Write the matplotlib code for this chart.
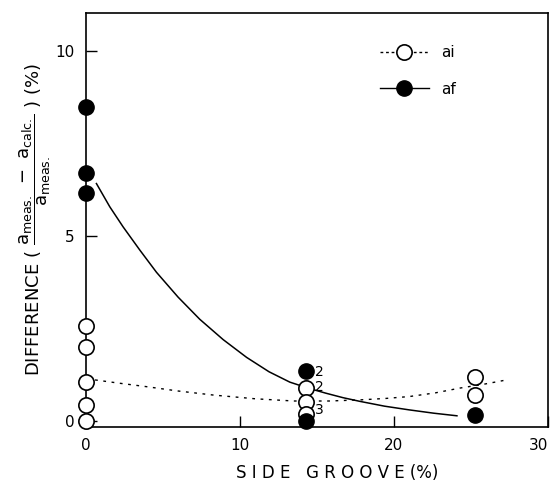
import matplotlib
matplotlib.use('Agg')
import matplotlib.pyplot as plt
from matplotlib.lines import Line2D

# ── Data ─────────────────────────────────────────────────────────────────────

ai_x = [0, 0, 0, 0, 0, 14.3, 14.3, 14.3, 25.3, 25.3]
ai_y = [2.57, 2.0, 1.05, 0.43, 0.0, 0.9, 0.5, 0.2, 1.2, 0.7]

af_x = [0, 0, 0, 14.3, 14.3, 25.3]
af_y = [8.5, 6.7, 6.16, 1.35, 0.0, 0.15]

# hand-drawn fit curves
af_curve_x = [0.69, 1.56, 2.42, 3.51, 4.59, 5.99, 7.40, 8.92, 10.44,
              11.9, 13.25, 14.5, 15.6, 16.7, 17.8, 19.4, 21.0, 22.6, 24.1]
af_curve_y = [6.42, 5.79, 5.25, 4.62, 4.02, 3.35, 2.75, 2.20, 1.72,
              1.33, 1.05, 0.88, 0.75, 0.63, 0.53, 0.40, 0.30, 0.21, 0.14]

ai_curve_x = [0.6, 2.2, 3.9, 6.0, 8.3, 11.0, 13.5, 15.8, 17.8, 19.5,
              21.0, 22.7, 24.3, 25.8, 27.2]
ai_curve_y = [1.11, 1.02, 0.93, 0.81, 0.70, 0.60, 0.54, 0.54, 0.57, 0.61,
              0.66, 0.76, 0.89, 0.99, 1.10]

count_x = [14.9, 14.9, 14.9]
count_y = [1.33, 0.92, 0.30]
count_labels = ['2', '2', '3']

xticks = [0, 10, 20, 30]
yticks = [0, 5, 10]


fig = plt.figure(figsize=(5.5, 4.84), dpi=100)
ax = fig.add_axes([0.156, 0.118, 0.84, 0.855])

ax.plot(af_curve_x, af_curve_y, color='black', linewidth=1.1)
ax.plot(ai_curve_x, ai_curve_y, color='black', linewidth=1.0,
        linestyle=(0, (2, 4)))

ax.plot(ai_x, ai_y, linestyle='none', marker='o', markersize=11,
        markerfacecolor='white', markeredgecolor='black',
        markeredgewidth=1.2, clip_on=False, zorder=3)
ax.plot(af_x, af_y, linestyle='none', marker='o', markersize=11,
        markerfacecolor='black', markeredgecolor='black',
        clip_on=False, zorder=4)

for x, y, s in zip(count_x, count_y, count_labels):
    ax.text(x, y, s, fontsize=10, ha='left', va='center')

ax.set_xlim(0, 30)
ax.set_ylim(-0.16, 11.03)
ax.set_xticks(xticks)
ax.set_yticks(yticks)
ax.tick_params(direction='in', length=8, width=1.0, labelsize=11, pad=8)
# last x label sits inside the frame edge, as in the original
ax.get_xticklabels()[-1].set_horizontalalignment('right')
for sp in ax.spines.values():
    sp.set_linewidth(1.2)

ax.set_xlabel('S I D E   G R O O V E (%)', fontsize=12, labelpad=8)
ax.xaxis.label.set_x(0.545)
ax.set_ylabel(r'DIFFERENCE ( $\dfrac{\mathrm{a_{meas.}}\ -\ \mathrm{a_{calc.}}}{\mathrm{a_{meas.}}}$ ) (%)',
              fontsize=13, labelpad=2)

handles = [
    Line2D([], [], color='black', linewidth=1.0, linestyle=(0, (2, 2)),
           marker='o', markersize=11, markerfacecolor='white',
           markeredgecolor='black', markeredgewidth=1.2, label='ai'),
    Line2D([], [], color='black', linewidth=1.0,
           marker='o', markersize=11, markerfacecolor='black',
           markeredgecolor='black', label='af'),
]
ax.legend(handles=handles, loc='upper right', bbox_to_anchor=(0.83, 0.955),
          frameon=False, fontsize=11, handlelength=3.2, labelspacing=1.4)

fig.savefig('out.png', dpi=100)
